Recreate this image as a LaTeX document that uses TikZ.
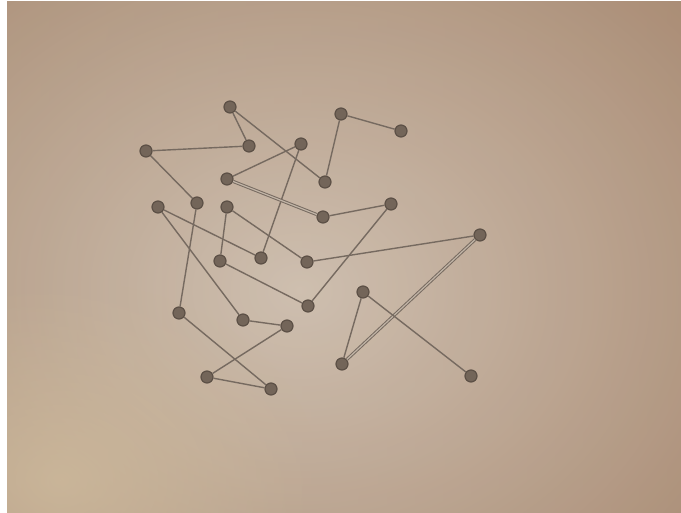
\documentclass[tikz,border=0pt]{standalone}
\usetikzlibrary{fadings}
\definecolor{paperL}{RGB}{178,162,138}
\definecolor{paperR}{RGB}{168,138,114}
\definecolor{paperC}{RGB}{212,198,184}
\definecolor{paperB}{RGB}{206,186,156}
\definecolor{dotc}{RGB}{115,101,89}
\definecolor{dotd}{RGB}{92,80,70}
\definecolor{linec}{RGB}{118,106,96}
\tikzfading[name=softfade, inner color=transparent!0, outer color=transparent!100]
\tikzset{
  dot/.style={circle, fill=dotc, draw=dotd, line width=1.2pt, minimum size=12pt, inner sep=0pt},
  edge/.style={draw=linec, line width=1.4pt},
  edgetwo/.style={draw=linec, line width=1pt, double=paperC!80!linec, double distance=1.2pt}
}
\begin{document}
\begin{tikzpicture}[x=1pt,y=-1pt]
\useasboundingbox (0,0) rectangle (681,513);
\fill[white] (0,0) rectangle (681,513);
\begin{scope}
\clip (7,2) rectangle (681,513);
\shade[left color=paperL, right color=paperR] (7,2) rectangle (681,513);
\shade[inner color=paperC, outer color=paperR, opacity=0.85] (300,290) ellipse (560 and 460);
\fill[paperB, path fading=softfade, fill opacity=0.8] (60,480) ellipse (260 and 200);
\end{scope}
% dots
\node[dot] (A) at (230,107) {};
\node[dot] (B) at (249,146) {};
\node[dot] (C) at (146,151) {};
\node[dot] (D) at (301,144) {};
\node[dot] (E) at (341,114) {};
\node[dot] (F) at (401,131) {};
\node[dot] (G) at (325,182) {};
\node[dot] (H) at (227,179) {};
\node[dot] (I) at (323,217) {};
\node[dot] (J) at (391,204) {};
\node[dot] (K) at (158,207) {};
\node[dot] (L) at (197,203) {};
\node[dot] (M) at (227,207) {};
\node[dot] (N) at (261,258) {};
\node[dot] (O) at (220,261) {};
\node[dot] (P) at (307,262) {};
\node[dot] (Q) at (480,235) {};
\node[dot] (R) at (308,306) {};
\node[dot] (S) at (179,313) {};
\node[dot] (T) at (243,320) {};
\node[dot] (U) at (287,326) {};
\node[dot] (V) at (363,292) {};
\node[dot] (W) at (342,364) {};
\node[dot] (X) at (471,376) {};
\node[dot] (Y) at (207,377) {};
\node[dot] (Z) at (271,389) {};
% connectors
\draw[edge] (A) -- (B);
\draw[edge] (A) -- (G);
\draw[edge] (C) -- (B);
\draw[edge] (C) -- (L);
\draw[edge] (H) -- (D);
\draw[edge] (D) -- (N);
\draw[edge] (E) -- (F);
\draw[edge] (E) -- (G);
\draw[edgetwo] (H) -- (I);
\draw[edge] (I) -- (J);
\draw[edge] (J) -- (R);
\draw[edge] (Q) -- (P);
\draw[edgetwo] (Q) -- (W);
\draw[edge] (V) -- (W);
\draw[edge] (V) -- (X);
\draw[edge] (K) -- (N);
\draw[edge] (K) -- (T);
\draw[edge] (L) -- (S);
\draw[edge] (M) -- (O);
\draw[edge] (M) -- (P);
\draw[edge] (O) -- (R);
\draw[edge] (S) -- (Z);
\draw[edge] (T) -- (U);
\draw[edge] (U) -- (Y);
\draw[edge] (Y) -- (Z);
\end{tikzpicture}
\end{document}
